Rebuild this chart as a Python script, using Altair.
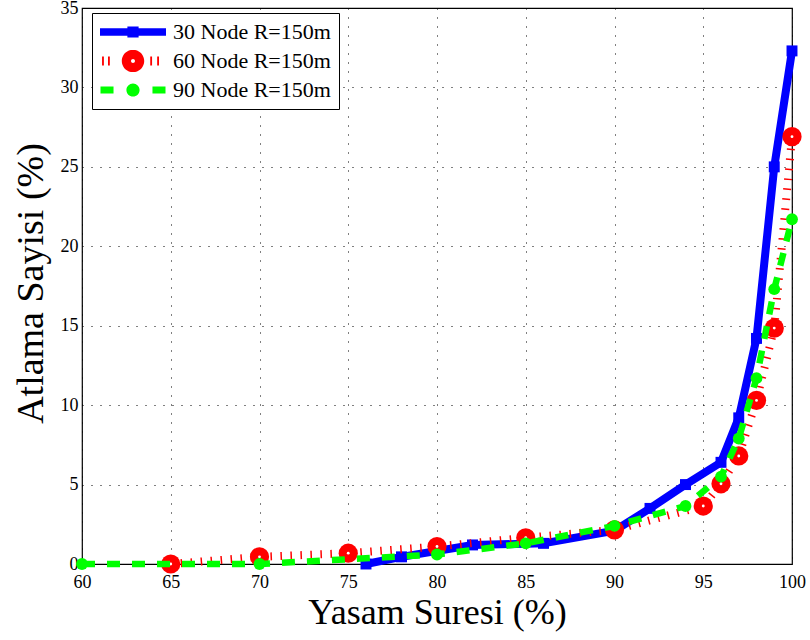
import altair as alt
import pandas as pd

FONT = "Liberation Serif"

# ---- data ----
names = ["30 Node R=150m", "60 Node R=150m", "90 Node R=150m"]
colors = ["#0000ff", "#ff0000", "#00ff00"]

x_30 = [76, 78, 82, 86, 90, 92, 94, 96, 97, 98, 99, 100]
y_30 = [0.0, 0.45, 1.2, 1.3, 2.1, 3.5, 5.0, 6.4, 9.2, 14.2, 25.0, 32.3]

x_60 = [65, 70, 75, 80, 85, 90, 95, 96, 97, 98, 99, 100]
y_60 = [0.0, 0.45, 0.68, 1.1, 1.65, 2.15, 3.65, 5.05, 6.8, 10.3, 14.85, 26.9]

x_90 = [60, 70, 80, 85, 90, 94, 96, 97, 98, 99, 100]
y_90 = [0.0, 0.0, 0.6, 1.3, 2.4, 3.65, 5.5, 7.9, 11.7, 17.3, 21.7]

x_ticks = [60, 65, 70, 75, 80, 85, 90, 95, 100]
y_ticks = [0, 5, 10, 15, 20, 25, 30, 35]

rows = []
for n, xs, ys in zip(names, [x_30, x_60, x_90], [y_30, y_60, y_90]):
    for a, b in zip(xs, ys):
        rows.append({"series": n, "x": a, "y": b})
df = pd.DataFrame(rows)

legend_df = pd.DataFrame({"series": names, "x": [None] * 3, "y": [None] * 3})

# ---- legend symbols (custom paths: line sample + marker) ----
def rect(x0, x1, h):
    return f"M{x0:.3f},{-h:.3f}H{x1:.3f}V{h:.3f}H{x0:.3f}Z"

def circ(r, sweep):
    return (f"M{-r:.3f},0A{r:.3f},{r:.3f} 0 1,{sweep} {r:.3f},0"
            f"A{r:.3f},{r:.3f} 0 1,{sweep} {-r:.3f},0Z")

path_30 = rect(-1, 1, 0.11) + " " + rect(-0.17, 0.17, 0.17)
path_60 = " ".join([rect(c - 0.028, c + 0.028, 0.14) for c in (-0.91, -0.73, 0.55, 0.76)]) \
    + " " + circ(0.34, 1) + " " + circ(0.06, 0)
path_90 = rect(-0.985, -0.59, 0.106) + " " + rect(0.59, 0.985, 0.106) + " " + circ(0.2, 1)

SYM = 66 * 66

leg = alt.Legend(
    title=None, orient="none", legendX=10, legendY=5,
    symbolSize=SYM, clipHeight=22, rowPadding=7, padding=8,
    strokeColor="black", fillColor="white", cornerRadius=0,
    labelFont=FONT, labelFontSize=22, labelColor="black", labelOffset=7,
    labelLimit=0, symbolStrokeWidth=0, symbolOpacity=1,
)

xscale = alt.Scale(domain=[60, 100], nice=False, zero=False)
yscale = alt.Scale(domain=[0, 35], nice=False, zero=False)

X = alt.X("x:Q", scale=xscale, axis=alt.Axis(
    values=x_ticks, title="Yasam Suresi (%)", labelFont=FONT, labelFontSize=18,
    labelColor="black", labelPadding=9, ticks=False, domain=False,
    grid=True, gridColor="black", gridDash=[1, 8], gridWidth=1, gridOpacity=1,
    titleFont=FONT, titleFontSize=36, titleFontWeight="normal", titleColor="black",
    titleY=59, titleBaseline="alphabetic", labelFlush=False))
Y = alt.Y("y:Q", scale=yscale, axis=alt.Axis(
    values=y_ticks, title="Atlama Sayisi (%)", labelFont=FONT, labelFontSize=18,
    labelColor="black", labelPadding=4, ticks=False, domain=False,
    grid=True, gridColor="black", gridDash=[1, 8], gridWidth=1, gridOpacity=1,
    titleFont=FONT, titleFontSize=38, titleFontWeight="normal", titleColor="black",
    titleX=-51, titleY=275, titleAlign="center", titleBaseline="middle",
    labelFlush=False))

base = alt.Chart(df).encode(x=X, y=Y)

def sel(i):
    return base.transform_filter(alt.datum.series == names[i])

blue_line = sel(0).mark_line(color=colors[0], strokeWidth=8)
blue_pts = sel(0).mark_point(shape="square", filled=True, size=120, color=colors[0], opacity=1)
red_line = sel(1).mark_line(color=colors[1], strokeWidth=8, strokeDash=[1.5, 8.5], strokeCap="butt")
red_pts = sel(1).mark_point(shape="circle", filled=True, size=370, color=colors[1], opacity=1)
red_ctr = sel(1).mark_point(shape="circle", filled=True, size=8, color="white", opacity=1)
green_line = sel(2).mark_line(color=colors[2], strokeWidth=6.5, strokeDash=[13, 12], strokeCap="butt")
green_pts = sel(2).mark_point(shape="circle", filled=True, size=140, color=colors[2], opacity=1)

legend_layer = alt.Chart(legend_df).mark_point(filled=True, size=SYM, opacity=1).encode(
    x=alt.X("x:Q", scale=xscale),
    y=alt.Y("y:Q", scale=yscale),
    color=alt.Color("series:N", scale=alt.Scale(domain=names, range=colors), legend=leg),
    shape=alt.Shape("series:N", scale=alt.Scale(domain=names, range=[path_30, path_60, path_90]), legend=leg),
)

chart = alt.layer(
    blue_line, blue_pts, red_line, red_pts, red_ctr, green_line, green_pts, legend_layer
).properties(
    width=710, height=556,
    autosize=alt.AutoSizeParams(type="none"),
    padding={"left": 82, "top": 8, "right": 18, "bottom": 76},
    background="white",
).configure_view(stroke="black", strokeWidth=1.2)

chart.save("out.html", embed_options={"renderer": "svg", "actions": False})
